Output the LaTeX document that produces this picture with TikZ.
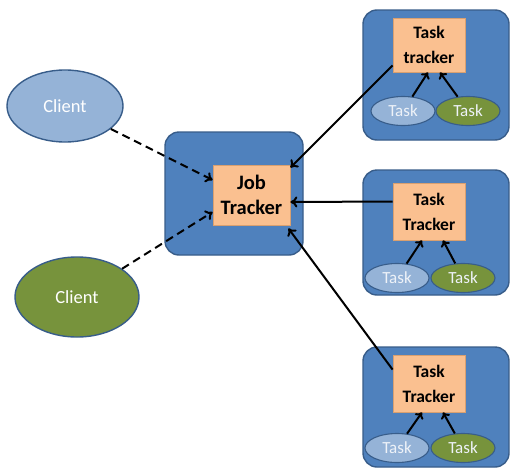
\documentclass[tikz,border=0pt]{standalone}
\usepackage{fontspec}
\setmainfont{Carlito}
\usetikzlibrary{arrows.meta,shapes.geometric}
\definecolor{outerblue}{HTML}{4F81BD}
\definecolor{edgeblue}{HTML}{385D8A}
\definecolor{peach}{HTML}{FAC090}
\definecolor{peachedge}{HTML}{D9A070}
\definecolor{lightblue}{HTML}{95B3D7}
\definecolor{olive}{HTML}{77933C}
\definecolor{tasktext}{HTML}{EEF2F8}
\tikzset{
  outerbox/.style={draw=edgeblue, line width=1.4pt, fill=outerblue, rounded corners=14pt, inner sep=0pt},
  innerbox/.style={draw=peachedge, line width=0.8pt, fill=peach, inner sep=0pt, align=center, font=\bfseries},
  clientA/.style={ellipse, draw=edgeblue, line width=1.4pt, fill=lightblue, inner sep=0pt, text=white, font=\fontsize{18.5}{21}\selectfont},
  clientB/.style={ellipse, draw=edgeblue, line width=1.4pt, fill=olive, inner sep=0pt, text=white, font=\fontsize{18.5}{21}\selectfont},
  taskA/.style={ellipse, draw=edgeblue, line width=1.1pt, fill=lightblue, inner sep=0pt, minimum width=64pt, minimum height=29pt, text=tasktext, font=\fontsize{17}{19}\selectfont},
  taskB/.style={ellipse, draw=edgeblue, line width=1.1pt, fill=olive, inner sep=0pt, minimum width=64pt, minimum height=29pt, text=tasktext, font=\fontsize{17}{19}\selectfont},
  arr/.style={line width=2pt, -{To[length=7pt,width=11pt]}},
  darr/.style={line width=2pt, dash pattern=on 8pt off 5pt, -{To[length=7pt,width=11pt]}},
  tarr/.style={line width=2pt, -{To[length=6pt,width=10pt]}}
}
\begin{document}
\begin{tikzpicture}[x=1pt,y=-1pt]
\useasboundingbox[fill=white] (0,0) rectangle (511,471);
% job tracker
\node[outerbox, minimum width=138pt, minimum height=123pt] (jbox) at (234,193.5) {};
\node[innerbox, minimum width=77pt, minimum height=60pt, font=\bfseries\fontsize{20.5}{25}\selectfont] (jt) at (251.5,195) {Job\\Tracker};
% clients
\node[clientA, minimum width=116pt, minimum height=72pt] (c1) at (65,106) {Client};
\node[clientB, minimum width=124pt, minimum height=80pt] (c2) at (77,297) {Client};
% task tracker 1
\node[outerbox, minimum width=146pt, minimum height=130pt] (b1) at (436,75) {};
\node[innerbox, minimum width=72pt, minimum height=54pt, font=\bfseries\fontsize{17.5}{25}\selectfont] (tt1) at (429,45) {Task\\tracker};
\node[taskA] (t1a) at (403,111) {Task};
\node[taskB] (t1b) at (468,111) {Task};
% task tracker 2
\node[outerbox, minimum width=146pt, minimum height=125pt] (b2) at (436,232.5) {};
\node[innerbox, minimum width=72pt, minimum height=57pt, font=\bfseries\fontsize{17.5}{25}\selectfont] (tt2) at (429,211.5) {Task\\Tracker};
\node[taskA] (t2a) at (397,278) {Task};
\node[taskB] (t2b) at (463,278) {Task};
% task tracker 3
\node[outerbox, minimum width=146pt, minimum height=120pt] (b3) at (436,407) {};
\node[innerbox, minimum width=72pt, minimum height=57pt, font=\bfseries\fontsize{17.5}{25}\selectfont] (tt3) at (429,383.5) {Task\\Tracker};
\node[taskA] (t3a) at (397,448) {Task};
\node[taskB] (t3b) at (463,448) {Task};
% dashed client arrows
\draw[darr] (c1) -- ([yshift=15pt]jt.west);
\draw[darr] (c2) -- ([yshift=-17pt]jt.west);
% task tracker -> job tracker
\draw[arr] ([yshift=7pt]tt1.south west) -- ([yshift=-3pt]jt.north east);
\draw[arr] ([yshift=10pt]tt2.west) -- ([yshift=-7pt]jt.east);
\draw[arr] ([yshift=-15pt]tt3.north west) -- ([xshift=-2pt,yshift=-3pt]jt.south east);
% tasks -> task trackers
\draw[tarr] (t1a) -- ([xshift=-1pt]tt1.south);
\draw[tarr] (t1b) -- ([xshift=11pt]tt1.south);
\draw[tarr] (t2a) -- ([xshift=-7pt]tt2.south);
\draw[tarr] (t2b) -- ([xshift=14pt]tt2.south);
\draw[tarr] (t3a) -- ([xshift=-7pt]tt3.south);
\draw[tarr] (t3b) -- ([xshift=14pt]tt3.south);
\end{tikzpicture}
\end{document}
